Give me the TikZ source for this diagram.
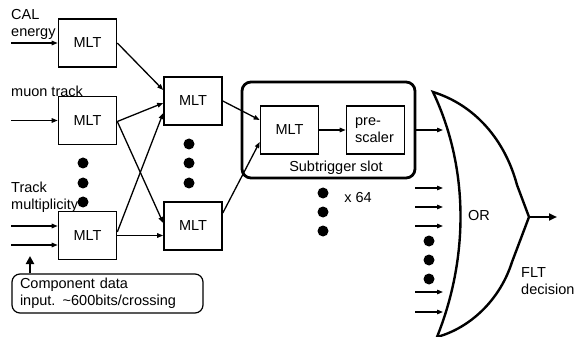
\documentclass[tikz,border=0pt]{standalone}
\usepackage{fontspec}
\setmainfont{Liberation Sans}
\usetikzlibrary{arrows.meta}
\begin{document}
\begin{tikzpicture}[x=1pt,y=-1pt,
    font=\fontsize{14.5}{17}\selectfont,
    box/.style={draw,line width=1.6pt,minimum width=58pt,minimum height=48pt,inner sep=0pt},
    arr/.style={-{Triangle[length=6pt,width=4.5pt]},line width=1.3pt},
    lbl/.style={align=left,inner sep=0pt,anchor=west}]
  \useasboundingbox (0,0) rectangle (574,337);
  % first level
  \node[box] (mltA) at (87.5,43) {MLT};
  \node[box] (mltB) at (87.5,120.5) {MLT};
  \node[box] (mltC) at (87.5,235.5) {MLT};
  % second level
  \node[box] (mltD) at (193,101) {MLT};
  \node[box] (mltE) at (193,226) {MLT};
  % subtrigger slot
  \node[draw,line width=2.8pt,rounded corners=9pt,minimum width=173pt,minimum height=96pt] (slot) at (328.5,130) {};
  \node[box] (mltF) at (289.5,130) {MLT};
  \node[box,align=left] (pre) at (375.5,130) {pre-\\scaler\hspace*{2pt}};
  \node (slotlbl) at (336,168) {Subtrigger slot};
  \node (times) at (358,198) {x 64};
  % input labels
  \node[lbl] (cal) at (11,24) {CAL\\energy};
  \node[lbl] (muon) at (11,91) {muon track};
  \node[lbl] (trk) at (11,197) {Track\\multiplicity};
  \node[draw,rounded corners=8pt,line width=1.2pt,minimum width=191pt,minimum height=39pt,
    inner xsep=8pt,text width=175pt,align=left] (comp) at (107.5,293.5)
    {Component data\\input. \textasciitilde600bits/crossing};
  % inputs
  \coordinate (inA) at (11,43);
  \coordinate (inB) at (11,120.5);
  \coordinate (inC1) at (11,226);
  \coordinate (inC2) at (11,245);
  \draw[arr] (inA) -- (mltA.west);
  \draw[arr] (inB) -- (mltB.west);
  \draw[arr] (inC1) -- (mltC.west |- inC1);
  \draw[arr] (inC2) -- (mltC.west |- inC2);
  \coordinate (upTip) at (30,256);
  \draw[-{Triangle[length=8pt,width=8pt]},line width=2.5pt] (upTip |- comp.north) -- (upTip);
  % first to second level
  \draw[arr] (mltA.east) -- ([yshift=11pt]mltD.west);
  \draw[arr] ([yshift=-1pt]mltB.east) -- ([yshift=-2pt]mltD.west);
  \draw[arr] ([yshift=-1pt]mltB.east) -- ([yshift=3pt]mltE.west);
  \draw[arr] ([yshift=3.5pt]mltC.east) -- ([yshift=-12pt]mltD.west);
  \draw[arr] (mltC.east) -- (mltE.west |- mltC.east);
  % second level to slot
  \draw[arr] (mltD.east) -- ([yshift=10pt]mltF.west);
  \draw[arr] ([yshift=13pt]mltE.east) -- ([yshift=-12pt]mltF.west);
  \draw[arr] (mltF) -- (pre);
  % dots
  \foreach \y in {163,183,202} \fill (83,\y) circle (5.5pt);
  \foreach \y in {144,163,183} \fill (189,\y) circle (5.5pt);
  \foreach \y in {193,212,231} \fill (323,\y) circle (5.5pt);
  \foreach \y in {241,260,279} \fill (429,\y) circle (5.5pt);
  % OR gate
  \coordinate (orTop) at (433,92);
  \coordinate (orTip) at (529,217);
  \coordinate (orBot) at (437,337);
  \draw[line width=2.4pt,line join=miter] (orTop) .. controls (470,170) and (468,260) .. (orBot)
    .. controls (470,328) and (500,300) .. (512,262) -- (orTip) -- (517,185)
    .. controls (505,140) and (475,105) .. cycle;
  \node (orlbl) at (479,216) {OR};
  \coordinate (slotOut) at (443,130);
  \draw[arr] (slot.east) -- (slotOut);
  \foreach \y [count=\i] in {188,207,226,292,312} {
    \coordinate (src\i) at (415,\y);
    \coordinate (dst\i) at (443,\y);
    \draw[arr] (src\i) -- (dst\i);
  }
  \coordinate (fltOut) at (557,217);
  \draw[-{Triangle[length=8pt,width=7pt]},line width=2.4pt] (orTip) -- (fltOut);
  \node[lbl] (flt) at (521,281) {FLT\\decision};
\end{tikzpicture}
\end{document}
